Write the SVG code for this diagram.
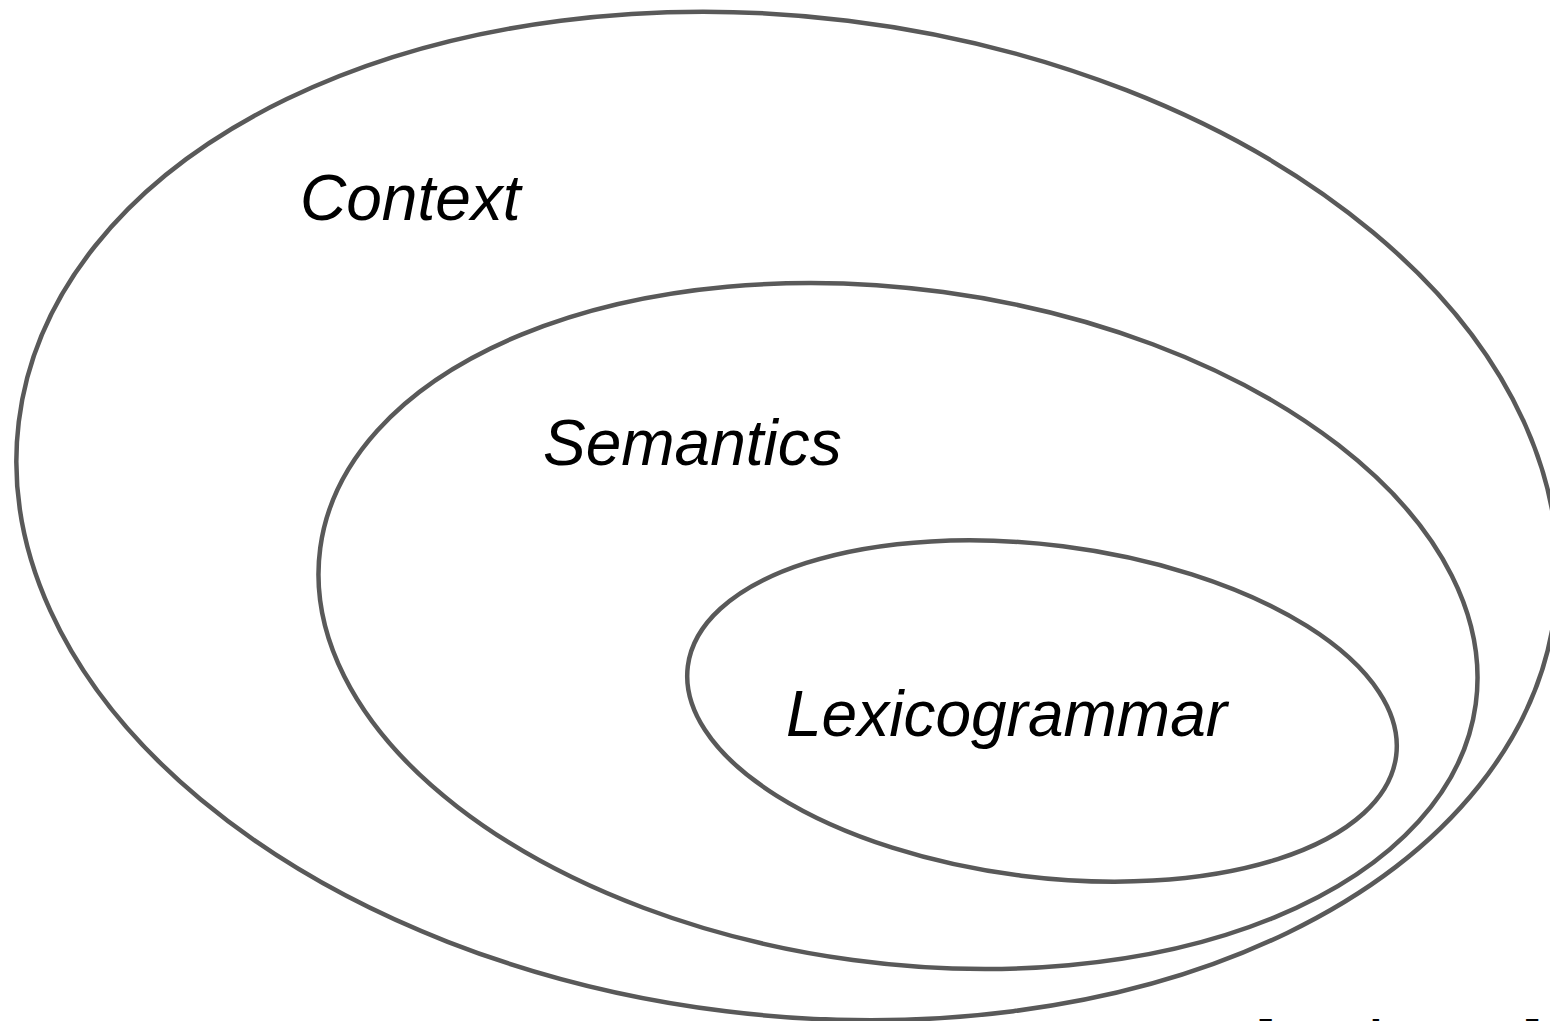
<svg xmlns="http://www.w3.org/2000/svg" width="1550" height="1021" viewBox="0 0 1550 1021">
  <style>
    .ring { fill: none; stroke: #595959; stroke-width: 4.5; }
    .label { font-family: "Liberation Sans", Arial, sans-serif; font-style: italic; font-size: 64px; fill: #000000; }
    .cite { font-family: "Liberation Sans", Arial, sans-serif; font-weight: bold; font-size: 46px; fill: #000000; }
  </style>
  <rect x="0" y="0" width="1550" height="1021" fill="#ffffff"/>

  <!-- outermost stratum -->
  <g id="context">
    <ellipse class="ring" cx="787" cy="516" rx="774" ry="499" transform="rotate(7.0 787 516)"/>
    <text class="label" x="300" y="220">Context</text>
  </g>

  <!-- middle stratum -->
  <g id="semantics">
    <ellipse class="ring" cx="898" cy="626" rx="583" ry="337" transform="rotate(7.7 898 626)"/>
    <text class="label" x="543" y="465">Semantics</text>
  </g>

  <!-- innermost stratum -->
  <g id="lexicogrammar">
    <ellipse class="ring" cx="1042" cy="711" rx="357" ry="166" transform="rotate(7.2 1042 711)"/>
    <text class="label" x="786" y="736">Lexicogrammar</text>
  </g>

  <g id="connectors"></g>

  <!-- source note, mostly below the lower edge -->
  <text class="cite" x="1257" y="1053">[Martin 2010]</text>
</svg>
